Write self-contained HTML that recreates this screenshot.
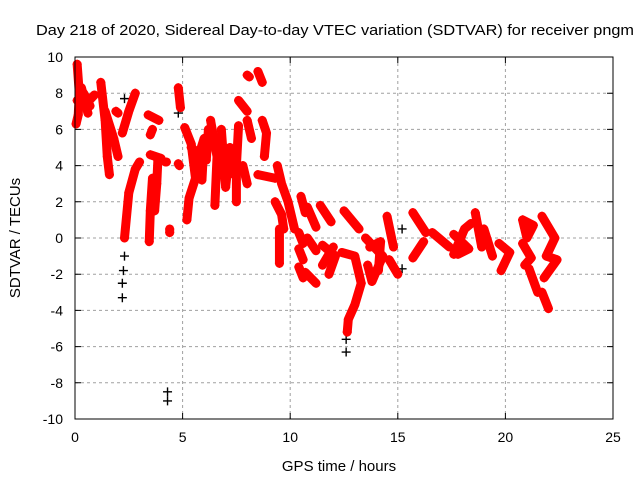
<!DOCTYPE html>
<html><head><meta charset="utf-8"><style>
body{margin:0;background:#fff;}
svg{display:block;font-family:"Liberation Sans",sans-serif;}
</style></head><body>
<svg id="chart" width="640" height="480" viewBox="0 0 640 480">
<text x="36" y="35" font-size="15" textLength="598" lengthAdjust="spacingAndGlyphs">Day 218 of 2020, Sidereal Day-to-day VTEC variation (SDTVAR) for receiver pngm</text>
<text x="339" y="471" font-size="15" text-anchor="middle">GPS time / hours</text>
<text transform="translate(20,238) rotate(-90)" font-size="15" text-anchor="middle">SDTVAR / TECUs</text>
<g id="grid"></g>
<g id="marks"></g>
<rect x="75" y="57" width="538" height="362" fill="none" stroke="#000" stroke-width="1"></rect>
</svg>
<script>
const xTicks=[0,5,10,15,20,25];
const yTicks=[-10,-8,-6,-4,-2,0,2,4,6,8,10];
const blackPoints=[[2.2,-3.3],[2.2,-2.5],[2.25,-1.8],[2.3,-1.0],[4.3,-8.5],[4.3,-9.0],[12.6,-6.3],[12.6,-5.6],[15.2,-1.7],[15.2,0.5],[2.3,7.7],[4.8,6.9]];
const tracks=[
[[0.1,9.6],[0.2,8.0],[0.15,6.8],[0.05,6.3]],
[[0.1,7.6],[0.5,7.4],[0.9,7.9]],
[[0.3,8.3],[0.45,7.6],[0.6,6.9]],
[[0.2,7.2],[0.4,8.0],[0.7,7.3]],
[[1.2,8.6],[1.4,6.5],[1.5,4.5],[1.6,3.5]],
[[1.4,7.0],[1.8,5.5],[2.0,4.5]],
[[1.9,7.0],[2.0,6.9]],
[[2.2,5.8],[2.5,7.0],[2.8,8.0]],
[[2.3,0.0],[2.5,2.5],[2.8,3.8],[3.0,4.2]],
[[3.4,6.8],[3.9,6.5]],
[[3.5,5.7],[3.6,6.0]],
[[3.5,4.6],[4.0,4.4]],
[[3.6,3.3],[3.5,1.5],[3.45,-0.2]],
[[3.85,4.3],[3.8,3.0],[3.7,1.5]],
[[4.4,0.5],[4.4,0.3]],
[[4.2,4.2],[4.25,4.2]],
[[4.8,8.3],[4.9,7.2]],
[[4.8,4.1],[4.85,4.0]],
[[5.1,6.1],[5.4,5.2],[5.6,3.3],[5.3,2.2],[5.2,1.0]],
[[5.4,5.0],[6.1,4.3],[6.2,6.0]],
[[5.6,4.0],[6.0,5.5],[5.9,3.2]],
[[6.3,6.5],[6.6,4.5],[6.5,1.8]],
[[6.6,5.0],[7.2,4.0],[7.4,3.5]],
[[6.8,6.0],[7.0,2.8],[7.2,5.0]],
[[6.5,5.5],[6.9,4.2],[7.3,4.6]],
[[7.6,7.6],[8.0,7.0]],
[[7.6,6.2],[7.5,4.0],[7.5,2.0]],
[[7.8,4.0],[8.0,3.0]],
[[8.0,6.5],[8.2,5.5]],
[[8.0,9.0],[8.1,8.9]],
[[8.5,9.2],[8.7,8.6]],
[[8.7,6.5],[8.9,5.8],[8.8,4.5]],
[[8.5,3.5],[9.3,3.3]],
[[9.4,4.0],[9.6,3.0],[9.9,2.0],[10.2,0.5]],
[[9.3,2.0],[9.6,1.3],[9.7,0.5]],
[[9.5,0.5],[9.5,-1.4]],
[[10.5,2.3],[10.7,1.4]],
[[10.8,1.7],[11.2,0.6]],
[[11.4,1.8],[11.9,0.9]],
[[12.5,1.5],[13.2,0.5]],
[[10.4,0.3],[10.6,-0.3]],
[[10.4,-0.6],[10.6,-1.2]],
[[10.4,-1.6],[10.6,-2.2]],
[[10.8,0.0],[11.2,-0.7]],
[[10.7,-1.9],[11.2,-2.5]],
[[11.5,-0.4],[12.1,-1.0],[11.8,-2.0]],
[[11.5,-1.5],[12.0,-0.5]],
[[12.4,-0.8],[13.0,-1.0],[13.3,-2.5],[13.0,-3.7],[12.7,-4.5],[12.65,-5.2]],
[[13.5,0.0],[14.3,-1.0],[13.8,-2.4],[13.6,-1.5]],
[[13.7,-0.5],[14.2,-0.2],[14.1,-1.8]],
[[14.5,1.2],[14.8,-0.5]],
[[14.6,-1.2],[15.0,-2.0]],
[[15.7,1.4],[16.3,0.3]],
[[16.2,-0.2],[15.7,-1.1]],
[[16.6,0.3],[17.4,-0.5]],
[[17.6,-0.9],[18.1,0.5],[18.4,0.8]],
[[17.6,0.2],[18.3,-0.6],[17.8,-0.9]],
[[18.6,1.4],[18.9,-0.5]],
[[19.0,0.5],[19.4,-1.0]],
[[19.7,-0.3],[20.2,-0.8],[19.8,-1.8]],
[[20.8,1.0],[21.3,0.7],[21.0,0.0],[20.8,1.0]],
[[20.8,-0.3],[21.2,-1.1],[20.9,-1.5]],
[[21.1,-1.7],[21.5,-3.0]],
[[21.7,-3.0],[22.0,-3.9]],
[[21.7,1.2],[22.3,0.0],[21.9,-1.0],[22.4,-1.2],[21.8,-2.2]]
];
const NS='http://www.w3.org/2000/svg';
const X=h=>75+h*538/25;
const Y=v=>238-v*18.1;
const grid=document.getElementById('grid');
const marks=document.getElementById('marks');
function mk(tag,attrs,parent){const e=document.createElementNS(NS,tag);for(const k in attrs)e.setAttribute(k,attrs[k]);parent.appendChild(e);return e;}
xTicks.forEach(t=>{
  const x=X(t);
  if(t>0&&t<25){const l=mk('line',{x1:x,y1:57,x2:x,y2:419,stroke:'#a0a0a0','stroke-dasharray':'3,3'},grid);
  
  }
  const tk=mk('path',{d:`M${x},419v-6M${x},57v6`,stroke:'#000'},grid);
  
  
  const tx=mk('text',{x:x,y:442,'font-size':14,'text-anchor':'middle'},grid);
  tx.textContent=t;
  
  
});
yTicks.forEach(t=>{
  const y=Y(t);
  if(t>-10&&t<10){const l=mk('line',{x1:75,y1:y,x2:613,y2:y,stroke:'#a0a0a0','stroke-dasharray':'3,3'},grid);
  
  }
  const tk=mk('path',{d:`M75,${y}h6M613,${y}h-6`,stroke:'#000'},grid);
  
  
  const tx=mk('text',{x:63,y:y+5,'font-size':14,'text-anchor':'end'},grid);
  tx.textContent=t;
  
  
});
function plus(h,v,color,name){
  const x=X(h),y=Y(v);
  const p=mk('path',{d:`M${x-4.5},${y}h9M${x},${y-4.5}v9`,stroke:color,'stroke-width':1.4},marks);
  
  
}
blackPoints.forEach(p=>plus(p[0],p[1],'#000','black-point'));
tracks.forEach(tr=>{
  const pts=tr.map(p=>X(p[0])+','+Y(p[1])).join(' ');
  const pl=mk('polyline',{points:pts,fill:'none',stroke:'#ff0000','stroke-width':9,'stroke-linecap':'round','stroke-linejoin':'round'},marks);
  
  
  tr.forEach(p=>plus(p[0],p[1],'#ff0000','red-point'));
});
</script>
</body></html>
